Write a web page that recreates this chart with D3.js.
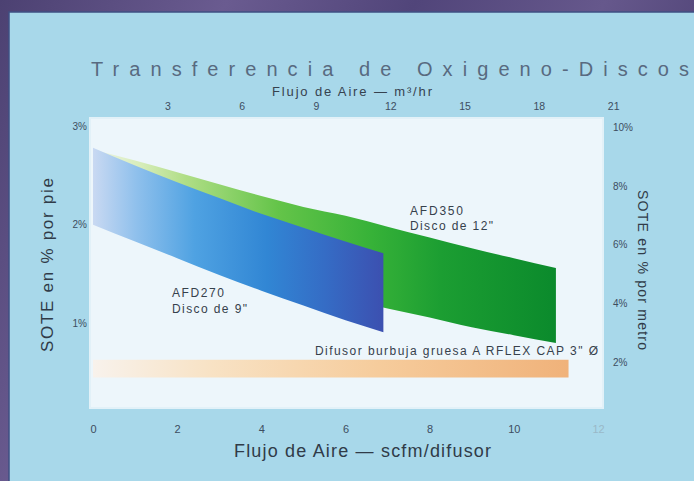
<!DOCTYPE html>
<html>
<head>
<meta charset="utf-8">
<script src="https://cdn.jsdelivr.net/npm/d3@7"></script>
<style>
  html, body { margin: 0; padding: 0; background: #55497a; }
  svg { display: block; }
  text { font-family: "Liberation Sans", Arial, sans-serif; }
</style>
</head>
<body>
<svg id="chart" width="694" height="481"></svg>
<script>
// ---------- data ----------
const bottomTicks = [0, 2, 4, 6, 8, 10, 12];          // scfm/difusor
const topTicks = [3, 6, 9, 12, 15, 18, 21];           // m3/hr
const leftTicks = [1, 2, 3];                          // % por pie
const rightTicks = [2, 4, 6, 8, 10];                  // % por metro
const m3hPerScfm = 1.699;

const afd270X = [0, 1, 2, 3, 4, 5, 6, 6.9];
const afd270Top = [2.78, 2.60, 2.43, 2.27, 2.11, 1.97, 1.83, 1.71];
const afd270Bottom = [2.00, 1.83, 1.66, 1.49, 1.33, 1.18, 1.03, 0.91];

const afd350X = [0, 1, 2, 3, 4, 5, 6, 7, 8, 9, 10, 11];
const afd350Top = [2.76, 2.65, 2.53, 2.41, 2.29, 2.18, 2.09, 1.98, 1.87, 1.76, 1.66, 1.56];
const afd350Bottom = [2.03, 1.85, 1.70, 1.58, 1.46, 1.35, 1.25, 1.15, 1.06, 0.96, 0.88, 0.80];

const capX = [0, 11.3];
const capTop = [0.63, 0.63];
const capBottom = [0.45, 0.45];

// ---------- scales ----------
const svg = d3.select("#chart");
const x = d3.scaleLinear().domain([0, 12]).range([93, 598]);
const xTop = d3.scaleLinear().domain([0, 12 * m3hPerScfm]).range([93, 598]);
const yL = d3.scaleLinear().domain([0, 3]).range([422, 126]);
const yR = d3.scaleLinear().domain([0, 10]).range([421, 127]);

// ---------- background ----------
const defs = svg.append("defs");
const bgGrad = defs.append("linearGradient").attr("id", "bg").attr("x1", 0).attr("x2", 1).attr("y1", 0).attr("y2", 0.3);
[["0", "#4c4172"], ["0.3", "#6a5b90"], ["0.55", "#51457a"], ["0.8", "#66588c"], ["1", "#4e4275"]]
  .forEach(([o, c]) => bgGrad.append("stop").attr("offset", o).attr("stop-color", c));
svg.append("rect").attr("width", 694).attr("height", 481).attr("fill", "url(#bg)");
svg.append("rect").attr("x", 9).attr("y", 12).attr("width", 690).attr("height", 475)
  .attr("fill", "#a8d8ea").attr("stroke", "#3f4f82").attr("stroke-width", 1.5);

// plot area
svg.append("rect").attr("x", 90).attr("y", 118).attr("width", 513).attr("height", 290)
  .attr("fill", "#edf6fb").attr("stroke", "#e2f1f8").attr("stroke-width", 2);

// ---------- gradients ----------
function grad(id, x0, x1, stops) {
  const g = defs.append("linearGradient").attr("id", id)
    .attr("gradientUnits", "userSpaceOnUse")
    .attr("x1", x0).attr("x2", x1).attr("y1", 0).attr("y2", 0);
  stops.forEach(([o, c]) => g.append("stop").attr("offset", o).attr("stop-color", c));
}
grad("gBlue", x(afd270X[0]), x(afd270X[afd270X.length - 1]), [
  [0, "#c9d9f2"], [0.15, "#8fc0ec"], [0.35, "#4fa2e2"], [0.6, "#3186d4"], [0.8, "#356cc5"], [1, "#3c50b0"]
]);
grad("gGreen", x(afd350X[0]), x(afd350X[afd350X.length - 1]), [
  [0, "#eef5e6"], [0.1, "#d8edbb"], [0.2, "#b0de86"], [0.4, "#64c449"], [0.6, "#37b238"], [0.75, "#1c9e32"], [1, "#0b8a2c"]
]);
grad("gCap", x(capX[0]), x(capX[1]), [
  [0, "#f8f2ec"], [0.25, "#f8e2c4"], [0.6, "#f6cc9c"], [1, "#f0b27a"]
]);

// ---------- bands ----------
function band(xs, top, bot, scaleY) {
  return d3.area()
    .x((d, i) => x(xs[i]))
    .y0((d, i) => scaleY(bot[i]))
    .y1((d, i) => scaleY(top[i]))
    .curve(d3.curveMonotoneX)(xs);
}
svg.append("path").attr("d", band(capX, capTop, capBottom, yL)).attr("fill", "url(#gCap)");
svg.append("path").attr("d", band(afd350X, afd350Top, afd350Bottom, yL)).attr("fill", "url(#gGreen)");
svg.append("path").attr("d", band(afd270X, afd270Top, afd270Bottom, yL)).attr("fill", "url(#gBlue)");

// ---------- axes ----------
const tickColor = "#3d4d60";
function styleAxis(g, size) {
  g.select(".domain").remove();
  g.selectAll("line").remove();
  g.selectAll("text").attr("fill", tickColor).attr("font-size", size)
    .attr("font-family", "'Liberation Sans', Arial, sans-serif");
}
svg.append("g").attr("transform", "translate(0,420)")
  .call(d3.axisBottom(x).tickValues(bottomTicks).tickSize(0).tickPadding(5))
  .call(g => styleAxis(g, 11))
  .call(g => g.selectAll(".tick").filter(d => d === 12).select("text").attr("fill", "#9ab8c8"));

svg.append("g").attr("transform", "translate(0,112)")
  .call(d3.axisTop(xTop).tickValues(topTicks).tickSize(0).tickPadding(2))
  .call(g => styleAxis(g, 10.5));

svg.append("g").attr("transform", "translate(88,0)")
  .call(d3.axisLeft(yL).tickValues(leftTicks).tickSize(0).tickPadding(1).tickFormat(d => d + "%"))
  .call(g => styleAxis(g, 10));

svg.append("g").attr("transform", "translate(612,0)")
  .call(d3.axisRight(yR).tickValues(rightTicks).tickSize(0).tickPadding(1).tickFormat(d => d + "%"))
  .call(g => styleAxis(g, 10));

// ---------- titles ----------
svg.append("text").attr("x", 91).attr("y", 76)
  .attr("font-size", 20).attr("fill", "#586a80")
  .attr("textLength", 598).attr("lengthAdjust", "spacing")
  .text("Transferencia de Oxigeno-Discos");

svg.append("text").attr("x", 272).attr("y", 96)
  .attr("font-size", 13).attr("fill", "#36424f")
  .attr("textLength", 160).attr("lengthAdjust", "spacing")
  .text("Flujo de Aire — m³/hr");

svg.append("text").attr("x", 234).attr("y", 457)
  .attr("font-size", 18).attr("fill", "#303b48")
  .attr("textLength", 257).attr("lengthAdjust", "spacing")
  .text("Flujo de Aire — scfm/difusor");

svg.append("text").attr("transform", "translate(47,265) rotate(-90)")
  .attr("text-anchor", "middle").attr("dy", "0.35em")
  .attr("font-size", 17).attr("fill", "#303b48")
  .attr("textLength", 174).attr("lengthAdjust", "spacing")
  .text("SOTE en % por pie");

svg.append("text").attr("transform", "translate(643,270) rotate(90)")
  .attr("text-anchor", "middle").attr("dy", "0.35em")
  .attr("font-size", 14).attr("fill", "#303b48")
  .attr("textLength", 160).attr("lengthAdjust", "spacing")
  .text("SOTE en % por metro");

// ---------- series labels ----------
const labelColor = "#36414c";
function label(px, py, str, len) {
  svg.append("text").attr("x", px).attr("y", py)
    .attr("font-size", 12).attr("fill", labelColor)
    .attr("textLength", len).attr("lengthAdjust", "spacing")
    .text(str);
}
label(172, 297, "AFD270", 52);
label(172, 313, "Disco de 9\"", 75);
label(410, 215, "AFD350", 53);
label(410, 230, "Disco de 12\"", 83);
label(315, 355, "Difusor burbuja gruesa A RFLEX CAP 3\" Ø", 283);
</script>
</body>
</html>
